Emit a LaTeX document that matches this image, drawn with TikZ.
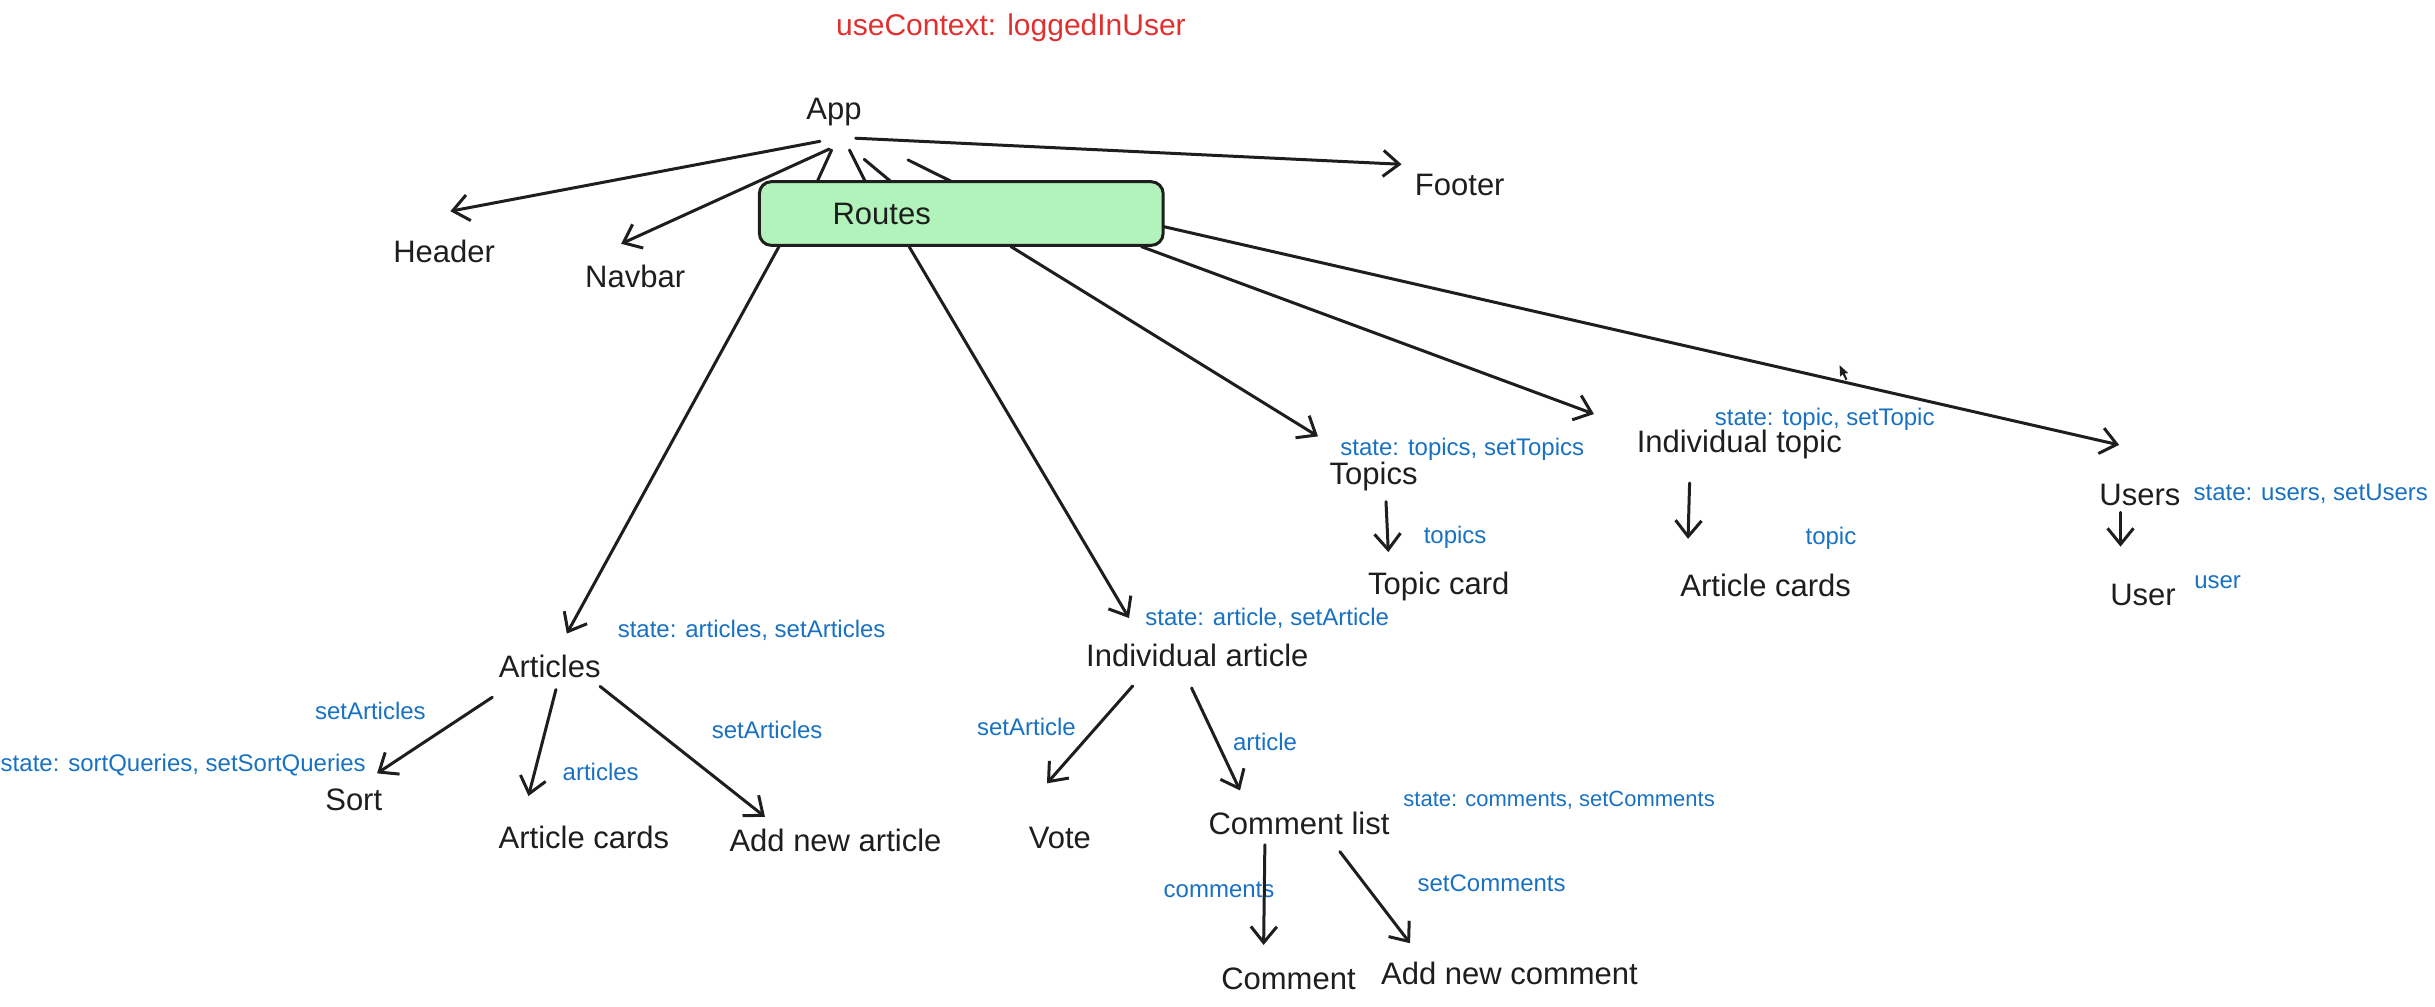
\documentclass[tikz,border=0pt]{standalone}
\usepackage{fontspec}
\setmainfont{Liberation Sans}
\usetikzlibrary{arrows.meta,calc}
\definecolor{ink}{HTML}{1E1E1E}
\definecolor{blu}{HTML}{1971C2}
\definecolor{redc}{HTML}{E03131}
\definecolor{grn}{HTML}{B2F2BB}
\pgfdeclarelayer{bg}
\pgfsetlayers{bg,main}
\begin{document}
\begin{tikzpicture}[x=1.553pt,y=-1.553pt,
  lbl/.style={inner sep=0pt,text=ink,font=\fontsize{31}{36}\selectfont},
  note/.style={inner sep=0pt,text=blu,font=\fontsize{24}{28}\selectfont},
  redlbl/.style={inner sep=0pt,text=redc,font=\fontsize{30}{34}\selectfont},
  arr/.style={draw=ink,line width=3pt,line cap=round,line join=round,
    -{Straight Barb[length=16pt,width=26pt,line width=3pt]}},
  ln/.style={draw=ink,line width=3pt,line cap=round},
  routesbox/.style={draw=ink,fill=grn,line width=3pt,rounded corners=12pt,
    minimum width=403.8pt,minimum height=63.7pt,inner sep=0pt}]
\useasboundingbox (0,0) rectangle (1568,648);

% top
\node[redlbl] (ctx) at (651,18) {useContext: loggedInUser};
\node[lbl] (app) at (537,72) {App};
\node[lbl] (header) at (286,162) {Header};
\node[lbl] (navbar) at (409,178) {Navbar};
\node[lbl] (footer) at (940,119) {Footer};
\node[routesbox] (routes) at (619,137.5) {};
\node[lbl,anchor=west] (routestxt) at (536,138) {Routes};

% second level
\node[lbl] (topics) at (884.5,307) {Topics};
\node[lbl] (indtopic) at (1120,286) {Individual topic};
\node[lbl] (users) at (1378,319) {Users};
\node[lbl] (topiccard) at (926.5,377.5) {Topic card};
\node[lbl] (artcards2) at (1137,377) {Article cards};
\node[lbl] (user) at (1380,383) {User};
\node[lbl] (articles) at (354,429) {Articles};
\node[lbl] (indart) at (771,422) {Individual article};
\node[lbl] (sort) at (227.8,515) {Sort};
\node[lbl] (artcards) at (376,539) {Article cards};
\node[lbl] (addart) at (538,541) {Add new article};
\node[lbl] (vote) at (682.5,539.6) {Vote};
\node[lbl] (commentlist) at (836.5,530) {Comment list};
\node[lbl] (comment) at (829.7,630) {Comment};
\node[lbl] (addcomment) at (972,627) {Add new comment};

% notes
\node[note] (n1) at (941.6,289) {state: topics, setTopics};
\node[note] (n2) at (1175,270) {state: topic, setTopic};
\node[note] (n3) at (1488,318) {state: users, setUsers};
\node[note] (n4) at (937,346) {topics};
\node[note] (n5) at (1179,346.6) {topic};
\node[note] (n6) at (1428,375) {user};
\node[note] (n7) at (484,406) {state: articles, setArticles};
\node[note] (n8) at (816,398) {state: article, setArticle};
\node[note] (n9) at (238.5,458) {setArticles};
\node[note] (n10) at (118,492.6) {state: sortQueries, setSortQueries};
\node[note] (n11) at (386.8,497) {articles};
\node[note] (n12) at (494,470) {setArticles};
\node[note] (n13) at (661,468) {setArticle};
\node[note] (n14) at (814.6,477.6) {article};
\node[note,font=\fontsize{22}{26}\selectfont] (n15) at (1004,515) {state: comments, setComments};
\node[note] (n16) at (785,573) {comments};
\node[note] (n17) at (960.5,568.7) {setComments};

% App to Routes (behind the box)
\begin{pgfonlayer}{bg}
\draw[ln] ($(app)+(-1.5,24.6)$) -- ($(routes)+(-94.4,-17)$);
\draw[ln] ($(app)+(10,24.6)$) -- ($(routes)+(-60,-17)$);
\draw[ln] ($(app)+(19.5,30.6)$) -- ($(routes)+(-41,-17)$);
\draw[ln] ($(app)+(47.7,31)$) -- ($(routes)+(1,-17)$);
\end{pgfonlayer}

% App arrows
\draw[arr] ($(app)+(-9,19)$) -- ($(header)+(4,-26)$);
\draw[arr] ($(app)+(-3,24)$) -- ($(navbar)+(-9,-21)$);
\draw[arr] ($(app)+(14,17)$) -- ($(footer)+(-37.5,-13.2)$);

% Routes arrows
\draw[arr] ($(routes)+(-117.4,21.3)$) -- ($(articles)+(11,-21)$);
\draw[arr] ($(routes)+(-33.6,21.3)$) -- ($(indart)+(-44,-24)$);
\draw[arr] ($(routes)+(32,21.3)$) -- ($(topics)+(-35.8,-26)$);
\draw[arr] ($(routes)+(116,21.3)$) -- ($(indtopic)+(-93.6,-19.4)$);
\draw[arr] ($(routes)+(130.6,8.5)$) -- ($(users)+(-13.4,-32.5)$);

% lower arrows
\draw[arr] ($(topics)+(8,16)$) -- ($(topiccard)+(-32.5,-22)$);
\draw[arr] ($(indtopic)+(-32,25)$) -- ($(artcards2)+(-50,-30)$);
\draw[arr] ($(users)+(-12.5,11)$) -- ($(user)+(-14.5,-31)$);
\draw[arr] ($(articles)+(-37,20)$) -- ($(sort)+(15,-17)$);
\draw[arr] ($(articles)+(4,15)$) -- ($(artcards)+(-35.7,-26.4)$);
\draw[arr] ($(articles)+(32.4,13)$) -- ($(addart)+(-45.4,-15)$);
\draw[arr] ($(indart)+(-41.6,19.7)$) -- ($(vote)+(-8.3,-35.2)$);
\draw[arr] ($(indart)+(-3.7,21)$) -- ($(commentlist)+(-38,-21)$);
\draw[arr] ($(commentlist)+(-22,14)$) -- ($(comment)+(-16,-21.5)$);
\draw[arr] ($(commentlist)+(26.3,18.4)$) -- ($(addcomment)+(-64,-19.6)$);

% mouse pointer left in the picture
\fill[ink] (1184.6,235.2) -- (1184.9,242.6) -- (1186.6,241.0) -- (1188.4,244.8)
  -- (1189.6,244.2) -- (1187.9,240.5) -- (1190.2,240.3) -- cycle;
\end{tikzpicture}
\end{document}
